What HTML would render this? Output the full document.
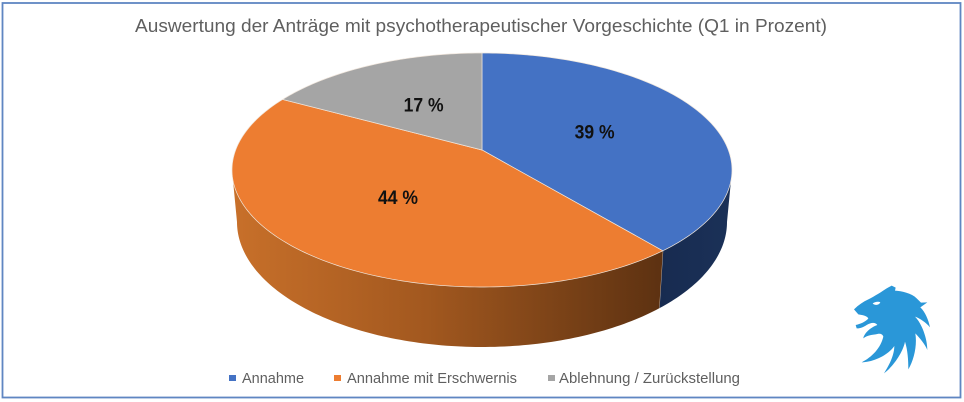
<!DOCTYPE html>
<html lang="de">
<head>
<meta charset="utf-8">
<title>Auswertung der Anträge</title>
<style>
html,body{margin:0;padding:0;background:#fff;width:964px;height:402px;overflow:hidden}
svg{display:block}
text{font-family:"Liberation Sans",sans-serif}
</style>
</head>
<body>
<svg id="chart" width="964" height="402" viewBox="0 0 964 402" xmlns="http://www.w3.org/2000/svg">
<defs>
<linearGradient id="side-orange" gradientUnits="userSpaceOnUse" x1="232" y1="0" x2="665" y2="0">
<stop offset="0" stop-color="#c8702a"/>
<stop offset="0.45" stop-color="#a2581f"/>
<stop offset="1" stop-color="#5c3111"/>
</linearGradient>
<linearGradient id="side-blue" gradientUnits="userSpaceOnUse" x1="660" y1="0" x2="732" y2="0">
<stop offset="0" stop-color="#172b50"/>
<stop offset="1" stop-color="#1b3158"/>
</linearGradient>
</defs>
<rect x="2.5" y="3" width="958" height="394.5" fill="#fff" stroke="#5f86c2" stroke-width="1.8"/>
<text x="481" y="32" font-size="18.5" fill="#5f5f5f" text-anchor="middle" textLength="692" lengthAdjust="spacingAndGlyphs">Auswertung der Anträge mit psychotherapeutischer Vorgeschichte (Q1 in Prozent)</text>
<g id="pie"></g>
<g id="legend"></g>
<g transform="translate(840 270) scale(0.3333)">
<path fill="#2a97d8" d="M42 118 C55 105 70 95 85 88 C105 78 125 65 140 55 L155 47 L167 53 L165 62 C185 63 215 70 230 85 L243 98 L262 97 L241 112 C255 125 266 150 270 172 C258 158 240 145 225 140 C245 160 262 205 262 240 C255 222 240 205 226 190 C232 225 222 270 205 298 C205 270 203 240 195 215 C190 245 160 290 132 310 C148 285 163 255 163 228 C145 255 100 277 65 277 C95 262 122 235 130 200 C128 192 120 190 112 192 C98 195 82 195 70 205 C72 190 92 172 112 165 C105 155 92 158 80 165 C70 172 58 176 50 175 L47 165 C60 162 78 155 85 145 C80 136 65 135 55 133 L42 118 Z"/>
<path fill="#fff" d="M98 101 C104 95 115 94 121 97 C118 104 106 108 98 101 Z"/>
</g>
<script>
const categories = ["Annahme", "Annahme mit Erschwernis", "Ablehnung / Zurückstellung"];
const values = [39, 44, 17];
const valueLabels = ["39 %", "44 %", "17 %"];

const NS = "http://www.w3.org/2000/svg";
const topFills = ["#4472c4", "#ed7d31", "#a5a5a5"];
const sideFills = ["url(#side-blue)", "url(#side-orange)", "#6e6e6e"];
const legendSwatchX = [229, 334, 548];
const legendTextX = [242, 347, 559];
const legendTextW = [62, 170, 181];
const K = -0.171;
const topE = {cx: 482, cy: 170, rx: 250, ry: 117};
const botE = {cx: 482, cy: 222, rx: 245, ry: 125};

function project(theta, r, e) {
  const X = r * Math.sin(theta), Y = -r * Math.cos(theta);
  const d = 1 + K * Y;
  return [e.cx + e.rx * X * Math.sqrt(1 - K * K) / d, e.cy + e.ry * (Y + K) / d];
}
function arc(a0, a1, e) {
  const pts = [];
  const n = Math.max(2, Math.ceil(Math.abs(a1 - a0) * 60));
  for (let i = 0; i <= n; i++) pts.push(project(a0 + (a1 - a0) * i / n, 1, e));
  return pts;
}
function toPath(pts) {
  return "M" + pts.map(p => p[0].toFixed(2) + " " + p[1].toFixed(2)).join("L") + "Z";
}

const pie = document.getElementById("pie");
const total = values.reduce((a, b) => a + b, 0);
const visStart = Math.acos(K);            // right silhouette of the disc
const visEnd = 2 * Math.PI - visStart;    // left silhouette of the disc

let cum = 0;
const slices = values.map(v => {
  const a0 = cum / total * 2 * Math.PI;
  cum += v;
  return [a0, cum / total * 2 * Math.PI];
});

slices.forEach((s, i) => {
  const a0 = Math.max(s[0], visStart), a1 = Math.min(s[1], visEnd);
  if (a1 <= a0) return;
  const side = document.createElementNS(NS, "path");
  side.setAttribute("d", toPath(arc(a0, a1, topE).concat(arc(a1, a0, botE))));
  side.setAttribute("fill", sideFills[i]);
  
  
  pie.appendChild(side);
  if (s[1] < visEnd && s[1] > visStart) {
    const p = project(s[1], 1, topE), q = project(s[1], 1, botE);
    const seam = document.createElementNS(NS, "line");
    seam.setAttribute("x1", p[0]); seam.setAttribute("y1", p[1]);
    seam.setAttribute("x2", q[0]); seam.setAttribute("y2", q[1]);
    seam.setAttribute("stroke", "#cdbfb2");
    seam.setAttribute("stroke-width", "0.8");
    
    
    pie.appendChild(seam);
  }
});

slices.forEach((s, i) => {
  const apex = [topE.cx, topE.cy + topE.ry * K];
  const path = document.createElementNS(NS, "path");
  path.setAttribute("d", toPath([apex].concat(arc(s[0], s[1], topE))));
  path.setAttribute("fill", topFills[i]);
  path.setAttribute("stroke", "#f0e6dc");
  path.setAttribute("stroke-width", "0.7");
  
  
  pie.appendChild(path);
});

slices.forEach((s, i) => {
  const c = project((s[0] + s[1]) / 2, 0.5, topE);
  const t = document.createElementNS(NS, "text");
  t.setAttribute("x", c[0]);
  t.setAttribute("y", c[1] + 7);
  t.setAttribute("font-size", "19");
  t.setAttribute("font-weight", "700");
  t.setAttribute("fill", "#111");
  t.setAttribute("text-anchor", "middle");
  t.setAttribute("textLength", "40");
  t.setAttribute("lengthAdjust", "spacingAndGlyphs");
  
  
  t.textContent = valueLabels[i];
  pie.appendChild(t);
});

const legend = document.getElementById("legend");
categories.forEach((c, i) => {
  const r = document.createElementNS(NS, "rect");
  r.setAttribute("x", legendSwatchX[i]);
  r.setAttribute("y", 375);
  r.setAttribute("width", 7);
  r.setAttribute("height", 6);
  r.setAttribute("fill", topFills[i]);
  
  
  legend.appendChild(r);
  const t = document.createElementNS(NS, "text");
  t.setAttribute("x", legendTextX[i]);
  t.setAttribute("y", 383);
  t.setAttribute("font-size", "14.5");
  t.setAttribute("fill", "#5f5f5f");
  t.setAttribute("textLength", legendTextW[i]);
  t.setAttribute("lengthAdjust", "spacingAndGlyphs");
  
  
  t.textContent = c;
  legend.appendChild(t);
});
</script>
</svg>
</body>
</html>
